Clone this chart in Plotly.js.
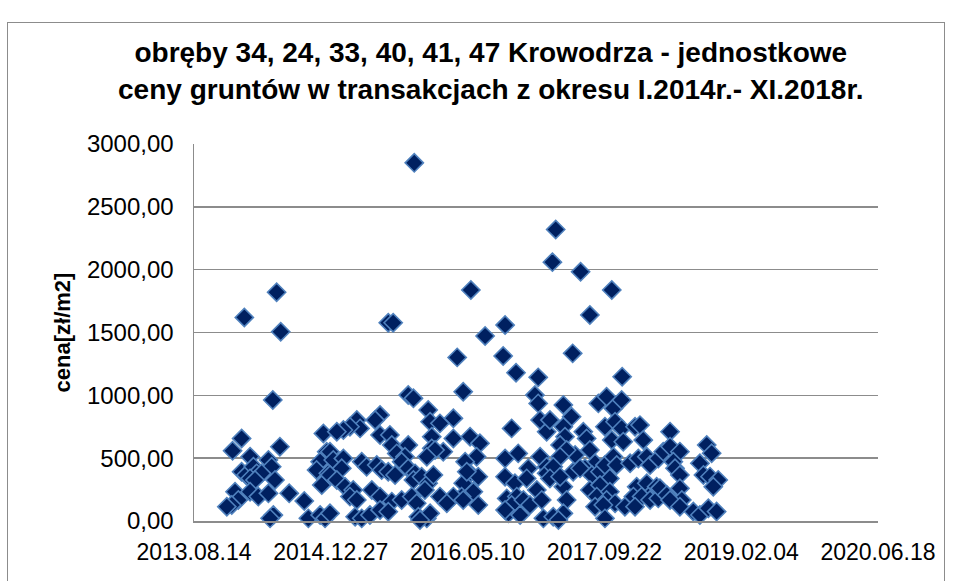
<!DOCTYPE html>
<html>
<head>
<meta charset="utf-8">
<script src="https://cdn.plot.ly/plotly-3.0.1.min.js"></script>
<style>
  html, body { margin: 0; padding: 0; background: #ffffff; overflow: hidden; }
  #wrap { position: relative; width: 953px; height: 581px; }
  #chart { position: absolute; left: 0; top: 0; width: 953px; height: 581px; }
  #frame { position: absolute; left: 7px; top: 22px; width: 936px; height: 700px;
           border: 1.5px solid #8c8c8c; border-bottom: none; pointer-events: none; }
</style>
</head>
<body>
<div id="wrap">
  <div id="chart"></div>
  <div id="frame"></div>
</div>
<script>
// Transaction dates as Excel serial day numbers (41500 = 2013-08-14)
const dateSerial = [
  41684, 41802, 41817, 41788, 42210, 42228, 42305, 42512, 42637, 42564, 42462, 42630, 42677, 42758, 42484,
  42822, 42810, 42913, 43027, 42947, 42884, 43065,
  41674, 41641, 41814, 41705, 41674, 41690, 41717, 41729, 41772, 41784, 41747, 41796, 41705, 41723, 41650,
  41662, 41638, 41620, 41705, 41735, 41772, 41848, 41903, 41790, 41778, 41918, 41961, 41979, 41973, 41985,
  41961, 41948, 41967, 41991,
  42283, 42302, 42356, 42180, 42162, 42095, 42107, 42070, 42046, 42022, 42180, 42216, 42223, 42241, 42283,
  42271, 42259, 42363, 42369, 42369, 41997, 42009, 42046, 42040, 42113, 42131, 42168, 42186, 42210, 42235,
  42283, 42308, 42302, 42332, 42356, 42344, 42375, 41997, 42022, 42052, 42082, 42070, 42095, 42150, 42180,
  42223, 42259, 42296, 42314, 41997, 42089, 42113, 42143, 42180, 42210, 42320, 42351,
  42746, 42758, 42448, 42399, 42661, 42765, 42789, 42448, 42509, 42545, 42411, 42533, 42491, 42509, 42637,
  42685, 42722, 42765, 42789, 42539, 42484, 42521, 42478, 42448, 42539, 42399, 42424, 42637, 42673, 42716,
  42753, 42643, 42680, 42661, 42704, 42728, 42649, 42692, 42637, 42771, 42789, 42777,
  42381, 42351, 42363, 42326, 42497, 42484,
  42850, 42880, 42978, 43008, 43033, 43063, 42801, 42850, 42856, 42838, 42923, 42935, 43002, 43039, 43027,
  43063, 43069, 43112, 43130, 43142, 42893, 42862, 42838, 42947, 42966, 42929, 42954, 42984, 43002, 43033,
  43045, 43020, 43094, 43124, 43155, 43167, 43197, 42813, 42801, 42850, 42886, 42911, 42838, 42947, 42984,
  42972, 43020, 43008, 43039, 42966, 42996, 43118, 43155, 43173, 43191, 43106, 43136, 43167, 43197, 42862,
  42850, 42813, 42832, 43002, 43075, 43112,
  43240, 43215, 43240, 43276, 43252, 43258, 43276, 43203, 43228, 43276, 43283, 43240, 43276, 43374, 43392,
  43349, 43362, 43386, 43416, 43398, 43325, 43349, 43380, 43410
];

// Unit prices [zł/m2]
const price = [
  1620, 1820, 1506, 963, 1578, 1578, 2850, 1838, 1559, 1472, 1302, 1313, 1180, 1143, 1029,
  2320, 2060, 1983, 1838, 1639, 1334, 1148,
  657, 559, 591, 512, 392, 366, 432, 379, 485, 432, 379, 326, 339, 326, 233,
  167, 127, 114, 233, 194, 220, 220, 159, 47, 21, 21, 47, 21, 697, 551,
  472, 406, 286, 379,
  1002, 976, 883, 843, 803, 803, 737, 750, 724, 710, 684, 684, 604, 538, 604,
  512, 472, 790, 671, 578, 551, 485, 498, 419, 472, 432, 445, 406, 392, 366,
  419, 379, 326, 352, 300, 247, 366, 366, 326, 273, 247, 194, 167, 247, 194,
  154, 167, 194, 141, 61, 34, 21, 47, 88, 74, 34, 21,
  1002, 936, 817, 777, 737, 803, 710, 657, 671, 618, 551, 512, 472, 379, 498,
  538, 419, 512, 432, 352, 300, 233, 194, 194, 127, 194, 141, 352, 300, 339,
  247, 180, 194, 127, 167, 127, 61, 47, 88, 167, 379, 21,
  565, 512, 61, 8, 392, 167,
  923, 830, 936, 989, 896, 963, 803, 750, 671, 604, 710, 657, 750, 790, 644,
  737, 631, 750, 763, 644, 525, 565, 512, 565, 459, 419, 366, 392, 445, 512,
  445, 339, 459, 498, 512, 445, 498, 432, 339, 273, 392, 419, 352, 247, 286,
  194, 233, 167, 141, 114, 127, 273, 300, 220, 273, 194, 194, 167, 180, 167,
  61, 34, 8, 21, 114, 114,
  711, 552, 592, 552, 472, 419, 366, 260, 207, 260, 167, 167, 114, 605, 539,
  459, 366, 353, 326, 273, 75, 48, 101, 75
];

const titleLines = [
  "obręby 34, 24, 33, 40, 41, 47 Krowodrza - jednostkowe",
  "ceny gruntów w transakcjach z okresu I.2014r.- XI.2018r."
];
const yTitle = "cena[zł/m2]";
const xRangeSerial = [41500, 44000];
const tickStepDays = 500;

function serialToISO(s) {
  const ms = Date.UTC(1899, 11, 30) + s * 86400000;
  return new Date(ms).toISOString().slice(0, 10);
}

const xDates = dateSerial.map(serialToISO);

const trace = {
  type: 'scatter',
  mode: 'markers',
  x: xDates,
  y: price,
  cliponaxis: false,
  marker: {
    symbol: 'diamond',
    size: 14,
    color: '#002060',
    line: { color: '#4f81bd', width: 1.6 }
  },
  hoverinfo: 'x+y'
};

const gridCol = '#8c8c8c';
const layout = {
  width: 953,
  height: 581,
  paper_bgcolor: 'rgba(0,0,0,0)',
  plot_bgcolor: '#ffffff',
  margin: { l: 194, r: 75, t: 144, b: 60 },
  separators: ', ',
  showlegend: false,
  font: { family: 'Liberation Sans, Arial, sans-serif', color: '#000000' },
  title: {
    text: titleLines.join('<br>'),
    font: { family: 'Liberation Sans, Arial, sans-serif', size: 28, color: '#000000', weight: 'bold' },
    x: 0.515,
    xanchor: 'center',
    xref: 'container',
    y: 0.893,
    yanchor: 'middle',
    yref: 'container'
  },
  xaxis: {
    type: 'date',
    range: [serialToISO(xRangeSerial[0]), serialToISO(xRangeSerial[1])],
    tick0: serialToISO(xRangeSerial[0]),
    dtick: tickStepDays * 86400000,
    tickformat: '%Y.%m.%d',
    showgrid: false,
    showline: true,
    linecolor: gridCol,
    linewidth: 1.5,
    zeroline: false,
    ticks: '',
    ticklabelstandoff: 10,
    tickfont: { size: 23, color: '#000000' }
  },
  yaxis: {
    range: [0, 3000],
    dtick: 500,
    tick0: 0,
    tickformat: '.2f',
    showgrid: true,
    gridcolor: gridCol,
    gridwidth: 1.5,
    showline: true,
    linecolor: gridCol,
    linewidth: 1.5,
    zeroline: false,
    ticks: '',
    ticklabelstandoff: 14,
    tickfont: { size: 24, color: '#000000' },
    title: {
      text: yTitle,
      standoff: 10,
      font: { size: 22, color: '#000000', weight: 'bold' }
    }
  }
};

Plotly.newPlot('chart', [trace], layout, { displayModeBar: false, staticPlot: true });
</script>
</body>
</html>
